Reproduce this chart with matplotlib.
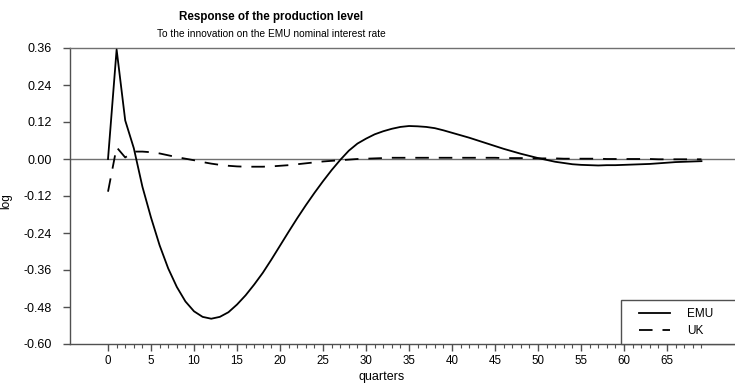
import matplotlib
matplotlib.use("Agg")
import matplotlib.pyplot as plt
from matplotlib.patches import Rectangle
from matplotlib.ticker import FixedLocator, FormatStrFormatter

plt.rcParams['font.family'] = ['Liberation Sans', 'DejaVu Sans']
plt.rcParams['axes.unicode_minus'] = False

# impulse responses, quarters 0..69
quarters = list(range(70))
emu = [0.0, 0.355, 0.125, 0.035, -0.09, -0.19, -0.28, -0.355, -0.415, -0.462,
       -0.494, -0.512, -0.518, -0.512, -0.497, -0.472, -0.442, -0.407, -0.369, -0.326,
       -0.281, -0.236, -0.192, -0.15, -0.11, -0.072, -0.036, -0.003, 0.027, 0.05,
       0.066, 0.08, 0.09, 0.098, 0.104, 0.107, 0.106, 0.104, 0.1, 0.093,
       0.085, 0.077, 0.069, 0.06, 0.051, 0.042, 0.033, 0.025, 0.017, 0.01,
       0.003, -0.003, -0.009, -0.013, -0.017, -0.019, -0.02, -0.021, -0.02, -0.02,
       -0.019, -0.018, -0.017, -0.016, -0.014, -0.012, -0.01, -0.009, -0.008, -0.007]
uk = [-0.106, 0.038, 0.005, 0.024, 0.024, 0.022, 0.018, 0.012, 0.006, 0.001,
      -0.004, -0.01, -0.015, -0.019, -0.022, -0.024, -0.025, -0.025, -0.025, -0.024,
      -0.022, -0.02, -0.017, -0.014, -0.011, -0.008, -0.006, -0.004, -0.002, 0.0,
      0.001, 0.002, 0.003, 0.004, 0.004, 0.004, 0.004, 0.004, 0.004, 0.004,
      0.004, 0.004, 0.004, 0.004, 0.004, 0.004, 0.003, 0.003, 0.003, 0.002,
      0.002, 0.002, 0.002, 0.001, 0.001, 0.001, 0.001, 0.001, 0.0, 0.0,
      0.0, 0.0, 0.0, 0.0, -0.001, -0.001, -0.001, -0.001, -0.001, -0.001]
yticks = [-0.60, -0.48, -0.36, -0.24, -0.12, 0.00, 0.12, 0.24, 0.36]
xticks = list(range(0, 70, 5))

W, H = 735, 387

fig = plt.figure(figsize=(7.35, 3.87), dpi=100)
ax = fig.add_axes([70 / W, 43 / H, (W - 70) / W, 296 / H])

ax.axhline(0, color='#707070', lw=1.0, zorder=1)
ax.plot(quarters, emu, color='black', lw=1.3, label='EMU', zorder=3)
ax.plot(quarters, uk, color='black', lw=1.3, dashes=(7.5, 5.5), label='UK', zorder=3)

ax.set_xlim(-4.42, 72.9)
ax.set_ylim(-0.60, 0.36)
ax.set_yticks(yticks)
ax.yaxis.set_major_formatter(FormatStrFormatter('%.2f'))
ax.set_xticks(xticks)
ax.xaxis.set_minor_locator(FixedLocator(quarters))

ax.spines['right'].set_visible(False)
ax.spines['left'].set_color('#505050')
ax.spines['bottom'].set_color('#505050')
ax.spines['top'].set_color('#707070')
for s in ax.spines.values():
    s.set_linewidth(1.0)

ax.tick_params(axis='y', direction='out', length=5, width=1, color='#505050',
               pad=8, labelsize=9)
ax.tick_params(axis='x', which='major', direction='out', length=5, width=1,
               color='#505050', pad=3, labelsize=8.3)
ax.tick_params(axis='x', which='minor', direction='out', length=3, width=0.8,
               color='#505050')

fig.text(271 / W, 1 - 17 / H, 'Response of the production level', ha='center',
         va='center', fontsize=8.4, fontweight='bold')
fig.text(271 / W, 1 - 34 / H, 'To the innovation on the EMU nominal interest rate',
         ha='center', va='center', fontsize=7.3)
fig.text(382 / W, 1 - 377 / H, 'quarters', ha='center', va='center', fontsize=9)
fig.text(6 / W, 1 - 201 / H, 'log', ha='center', va='center', fontsize=8.5, rotation=90)

# legend frame runs off the right edge, as in the original
ax.add_patch(Rectangle((621 / W, 43 / H), 130 / W, 44 / H,
                       transform=fig.transFigure, facecolor='white',
                       edgecolor='#505050', lw=1.0, zorder=4, clip_on=False))
leg = ax.legend(loc='upper left', bbox_to_anchor=(639 / W, 1 - 308 / H),
                bbox_transform=fig.transFigure, borderaxespad=0, borderpad=0,
                fontsize=8.5, handlelength=2.6, handletextpad=1.5,
                labelspacing=0.45, frameon=False)
leg.set_zorder(5)

fig.savefig('out.png', dpi=100)
